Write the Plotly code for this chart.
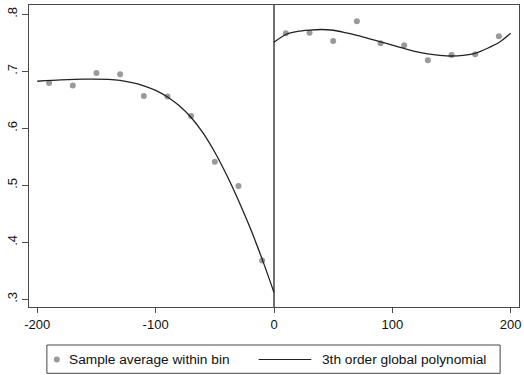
import plotly.graph_objects as go

# Binned sample averages
bins_left = [-190, -170, -150, -130, -110, -90, -70, -50, -30, -10]
avg_left = [0.6795, 0.675, 0.697, 0.6947, 0.6567, 0.656, 0.6216, 0.5414, 0.4988, 0.368]
bins_right = [10, 30, 50, 70, 90, 110, 130, 150, 170, 190]
avg_right = [0.7667, 0.7677, 0.753, 0.788, 0.749, 0.7456, 0.7193, 0.7286, 0.7298, 0.7614]

# Fitted 3rd order polynomial
fit_left_x = [-200, -180, -160, -140, -130, -120, -110, -100, -90, -80, -70, -60, -50,
              -40, -30, -20, -10, 0]
fit_left_y = [0.6825, 0.6848, 0.6862, 0.6858, 0.6840, 0.6800, 0.6745, 0.6665, 0.6550,
              0.6395, 0.6190, 0.5920, 0.5580, 0.5180, 0.4735, 0.4245, 0.3705, 0.3120]
fit_right_x = [0, 10, 20, 30, 40, 50, 60, 70, 80, 90, 100, 110, 120, 130, 140, 150,
               160, 170, 180, 190, 200]
fit_right_y = [0.7509, 0.7645, 0.7700, 0.7722, 0.7733, 0.7720, 0.7680, 0.7632, 0.7575,
               0.7518, 0.7460, 0.7400, 0.7345, 0.7305, 0.7280, 0.7268, 0.7280, 0.7316,
               0.7400, 0.7505, 0.7667]

cutoff = 0
x_ticks = [-200, -100, 0, 100, 200]
x_ticktext = ["-200", "-100", "0", "100", "200"]
y_ticks = [0.3, 0.4, 0.5, 0.6, 0.7, 0.8]
y_ticktext = [".3", ".4", ".5", ".6", ".7", ".8"]
legend_labels = ["Sample average within bin", "3th order global polynomial"]

font_family = "Liberation Sans, Arial, sans-serif"
dot_color = "#9a9a9a"
line_color = "#222222"
axis_color = "#4a4a4a"

W, H = 524, 375
M = dict(l=29, r=2, t=5, b=68)
pw = W - M["l"] - M["r"]
ph = H - M["t"] - M["b"]


def px(xp):
    return (xp - M["l"]) / pw


def py(yp):
    return (H - M["b"] - yp) / ph


fig = go.Figure()
fig.add_trace(go.Scatter(
    x=bins_left + bins_right, y=avg_left + avg_right, mode="markers",
    marker=dict(color=dot_color, size=6),
    name=legend_labels[0], showlegend=False,
))
fig.add_trace(go.Scatter(
    x=fit_left_x, y=fit_left_y, mode="lines",
    line=dict(color=line_color, width=1.3, shape="spline", smoothing=0.8),
    name=legend_labels[1], showlegend=False,
))
fig.add_trace(go.Scatter(
    x=fit_right_x, y=fit_right_y, mode="lines",
    line=dict(color=line_color, width=1.3, shape="spline", smoothing=0.8),
    name=legend_labels[1], showlegend=False,
))

# cutoff line
fig.add_shape(type="line", xref="x", yref="paper", x0=cutoff, x1=cutoff, y0=0, y1=1,
              line=dict(color="#111111", width=1.2))

# legend box (drawn by hand to match Stata's layout)
leg_y = 359.5
fig.add_shape(type="rect", xref="paper", yref="paper",
              x0=px(47), x1=px(503), y0=py(373.3), y1=py(345),
              line=dict(color="#444444", width=1), fillcolor="white", layer="above")
fig.add_shape(type="circle", xref="paper", yref="paper",
              x0=px(54), x1=px(60), y0=py(leg_y + 3), y1=py(leg_y - 3),
              line=dict(width=0), fillcolor=dot_color, layer="above")
fig.add_shape(type="line", xref="paper", yref="paper",
              x0=px(260), x1=px(313), y0=py(leg_y), y1=py(leg_y),
              line=dict(color=line_color, width=1.2), layer="above")
fig.add_annotation(text=legend_labels[0], xref="paper", yref="paper", x=px(67), y=py(leg_y),
                   xanchor="left", yanchor="middle", showarrow=False,
                   font=dict(size=13.7, family=font_family, color="#111111"))
fig.add_annotation(text=legend_labels[1], xref="paper", yref="paper", x=px(322), y=py(leg_y),
                   xanchor="left", yanchor="middle", showarrow=False,
                   font=dict(size=13.7, family=font_family, color="#111111"))

fig.update_layout(
    width=W, height=H,
    margin=M,
    paper_bgcolor="white", plot_bgcolor="white",
    font=dict(family=font_family, size=13, color="#111111"),
    showlegend=False,
    xaxis=dict(
        range=[-207, 207], tickvals=x_ticks, ticktext=x_ticktext, showgrid=False, zeroline=False,
        showline=True, linecolor=axis_color, linewidth=1.3, mirror=True,
        ticks="outside", ticklen=5, tickcolor=axis_color, tickfont=dict(size=13),
        ticklabeloverflow="allow",
    ),
    yaxis=dict(
        range=[0.2865, 0.8163], tickvals=y_ticks, ticktext=y_ticktext, tickangle=-90,
        showgrid=False, zeroline=False,
        showline=True, linecolor=axis_color, linewidth=1.3, mirror=True,
        ticks="outside", ticklen=6, tickcolor=axis_color, tickfont=dict(size=13),
    ),
)

fig.write_html("out.html")
